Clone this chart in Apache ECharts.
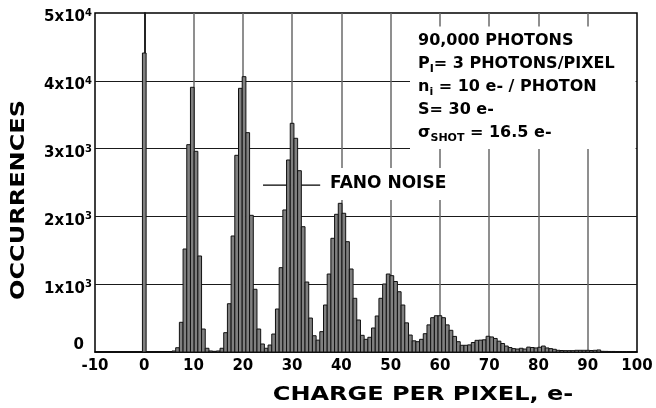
<!DOCTYPE html>
<html>
<head>
<meta charset="utf-8">
<script src="https://cdn.jsdelivr.net/npm/echarts@6/dist/echarts.min.js"></script>
<style>
html,body{margin:0;padding:0;background:#fff;}
#chart{width:656px;height:408px;}
</style>
</head>
<body>
<div id="chart"></div>
<script>
// Histogram bins (e-), bin width
const binWidth = 0.75;
// Occurrences per bin, starting at charge 0
const counts = [4410,0,0,0,0,0,0,0,15,63,438,1519,3058,3904,2960,1416,339,55,15,10,
  15,55,285,712,1711,2901,3889,4061,3235,2016,925,339,118,55,103,265,634,1244,2095,2832,
  3373,3152,2674,1848,1032,501,240,175,300,693,1150,1677,2031,2193,2046,1627,1224,792,472,246,
  187,217,354,531,792,1003,1150,1126,1040,889,693,430,250,165,152,187,270,400,506,535,
  535,506,400,320,230,152,99,99,105,140,172,175,180,232,222,200,160,125,88,66,
  50,44,55,44,72,66,60,70,88,60,50,40,25,22,20,20,20,25,25,25,
  25,22,25,30,10,9,8,8,7,7,7,7,7];
const charge = counts.map((_, i) => i * binWidth);

// Axis ticks
const xTicks = [-10, 0, 10, 20, 30, 40, 50, 60, 70, 80, 90, 100];
const yTickValues = [0, 1000, 2000, 3000, 4000, 5000];
const yTickBase = ['0', '1x10', '2x10', '3x10', '4x10', '5x10'];
const yTickExp = ['', '3', '3', '3', '4', '4'];

// Titles and annotation
const xTitle = 'CHARGE PER PIXEL, e-';
const yTitle = 'OCCURRENCES';
const noteLines = [
  [['t', '90,000 PHOTONS']],
  [['t', 'P'], ['s', 'I'], ['t', '= 3 PHOTONS/PIXEL']],
  [['t', 'n'], ['s', 'i'], ['t', ' = 10 e- / PHOTON']],
  [['t', 'S= 30 e-']],
  [['t', 'σ'], ['s', 'SHOT'], ['t', ' = 16.5 e-']]
];
const fanoLabel = 'FANO NOISE';
const fanoLeader = [[24.1, 2460], [35.7, 2460]];

const FONT = '"DejaVu Sans", "Liberation Sans", sans-serif';

const chart = echarts.init(document.getElementById('chart'), null, {renderer: 'canvas'});
const noteText = noteLines.map(l => l.map(([st, tx]) => '{' + st + '|' + tx + '}').join('')).join('\n');

function renderBin(params, api) {
  const x = api.value(0);
  const y = api.value(1);
  const topLeft = api.coord([x - binWidth / 2, y]);
  const bottomRight = api.coord([x + binWidth / 2, 0]);
  return {
    type: 'rect',
    shape: {x: topLeft[0], y: topLeft[1], width: bottomRight[0] - topLeft[0], height: bottomRight[1] - topLeft[1]},
    style: {fill: '#808080', stroke: '#111', lineWidth: 1}
  };
}

chart.setOption({
  animation: false,
  backgroundColor: '#fff',
  grid: {left: 95, right: 19, top: 13, bottom: 56, show: true, borderColor: '#000', borderWidth: 1.5, backgroundColor: 'transparent'},
  title: [
    {
      left: 410, top: 23, padding: [6, 21, 5, 8], backgroundColor: '#fff',
      text: noteText,
      textStyle: {
        rich: {
          t: {fontFamily: FONT, fontWeight: 'bold', fontSize: 16, lineHeight: 23, color: '#000'},
          s: {fontFamily: FONT, fontWeight: 'bold', fontSize: 11, lineHeight: 13, verticalAlign: 'bottom', color: '#000'}
        }
      }
    },
    {
      left: 326, top: 168, padding: [7, 4, 7, 4], backgroundColor: '#fff',
      text: fanoLabel,
      textStyle: {fontFamily: FONT, fontWeight: 'bold', fontSize: 17, lineHeight: 18, color: '#000'}
    }
  ],
  graphic: [
    {
      type: 'text', x: 19, y: 200, rotation: Math.PI / 2, scaleX: 1.2,
      style: {text: yTitle, font: 'bold 20px ' + FONT, fill: '#000',
        align: 'center', verticalAlign: 'middle', textAlign: 'center', textVerticalAlign: 'middle'}
    },
    {
      type: 'text', x: 423, y: 395, scaleX: 1.2,
      style: {text: xTitle, font: 'bold 20px ' + FONT, fill: '#000',
        align: 'center', verticalAlign: 'middle', textAlign: 'center', textVerticalAlign: 'middle'}
    }
  ],
  xAxis: {
    type: 'value', min: xTicks[0], max: xTicks[xTicks.length - 1], interval: 10,
    axisLine: {show: true, onZero: false, lineStyle: {color: '#000', width: 1.5}},
    axisTick: {show: false},
    splitLine: {show: true, showMinLine: false, showMaxLine: false, lineStyle: {color: '#6a6a6a', width: 1.5}},
    axisLabel: {margin: 7, fontFamily: FONT, fontWeight: 'bold', fontSize: 15, color: '#000',
      showMinLabel: true, showMaxLabel: true}
  },
  yAxis: {
    type: 'value', min: yTickValues[0], max: yTickValues[yTickValues.length - 1], interval: 1000,
    axisLine: {show: true, lineStyle: {color: '#000', width: 1.5}},
    axisTick: {show: false},
    splitLine: {show: true, showMinLine: false, showMaxLine: false, lineStyle: {color: '#1a1a1a', width: 1}},
    axisLabel: {
      margin: 3, padding: [9, 0, 0, 0],
      formatter: function (v) {
        const i = yTickValues.indexOf(v);
        if (i < 0) return '';
        if (yTickExp[i] === '') return '{z|' + yTickBase[i] + '}{e|}';
        return '{b|' + yTickBase[i] + '}{s|' + yTickExp[i] + '}';
      },
      rich: {
        b: {fontFamily: FONT, fontWeight: 'bold', fontSize: 15, lineHeight: 18, color: '#000'},
        z: {fontFamily: FONT, fontWeight: 'bold', fontSize: 15, lineHeight: 18, color: '#000', padding: [0, 0, 23, 0]},
        s: {fontFamily: FONT, fontWeight: 'bold', fontSize: 10, lineHeight: 10, verticalAlign: 'top', color: '#000'},
        e: {width: 8, fontSize: 10}
      }
    }
  },
  series: [
    {
      type: 'line', data: fanoLeader, symbol: 'none', silent: true, z: 1,
      lineStyle: {color: '#000', width: 1.2}
    },
    {
      type: 'custom', data: charge.map((c, i) => [c, counts[i]]), renderItem: renderBin,
      encode: {x: 0, y: 1}, clip: true, z: 2, silent: true
    }
  ]
});
</script>
</body>
</html>
